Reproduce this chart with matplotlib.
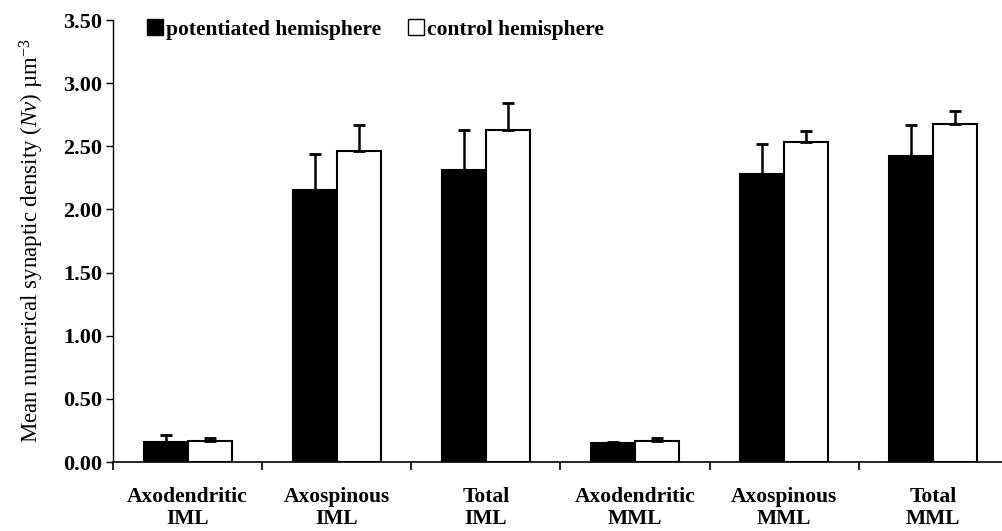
import matplotlib
matplotlib.use('Agg')
import matplotlib.pyplot as plt
from matplotlib.patches import Patch
import numpy as np

# Data
categories = ['Axodendritic\nIML', 'Axospinous\nIML', 'Total\nIML',
              'Axodendritic\nMML', 'Axospinous\nMML', 'Total\nMML']
potentiated = [0.16, 2.15, 2.31, 0.15, 2.28, 2.42]
potentiated_err = [0.05, 0.29, 0.32, 0.01, 0.24, 0.25]
control = [0.17, 2.46, 2.63, 0.17, 2.53, 2.68]
control_err = [0.02, 0.21, 0.21, 0.02, 0.09, 0.10]
yticks = [0.0, 0.5, 1.0, 1.5, 2.0, 2.5, 3.0, 3.5]

plt.rcParams['font.family'] = ['Liberation Serif', 'DejaVu Serif']
plt.rcParams['mathtext.fontset'] = 'custom'
plt.rcParams['mathtext.rm'] = 'Liberation Serif'
plt.rcParams['mathtext.it'] = 'Liberation Serif:italic'

fig = plt.figure(figsize=(10.03, 5.31), dpi=100)
ax = fig.add_axes([113 / 1003, 69 / 531, 890 / 1003, 442 / 531])

x = np.arange(len(categories))
w = 0.295
off = 0.147

ax.bar(x - off, potentiated, w, color='black', edgecolor='black', linewidth=1.5)
ax.bar(x + off, control, w, color='white', edgecolor='black', linewidth=1.5)
ax.errorbar(x - off, potentiated, yerr=[np.zeros(6), potentiated_err], fmt='none',
            ecolor='black', elinewidth=1.8, capsize=4, capthick=2)
ax.errorbar(x + off, control, yerr=[np.zeros(6), control_err], fmt='none',
            ecolor='black', elinewidth=1.8, capsize=4, capthick=2)

ax.set_xlim(-0.5, 5.5 - 5 / 149.4)
ax.set_ylim(0, 3.5)
ax.set_yticks(yticks)
ax.set_yticklabels([f'{v:.2f}' for v in yticks], fontsize=16, fontweight='bold')

# boundaries as major ticks, labels on minor ticks at centres
ax.set_xticks(np.arange(-0.5, 5.5, 1.0))
ax.set_xticklabels([])
ax.set_xticks(x, minor=True)
ax.set_xticklabels(categories, minor=True, fontsize=15.5, fontweight='bold',
                   linespacing=1.1)
ax.tick_params(axis='x', which='minor', length=0, pad=18)
ax.tick_params(axis='x', which='major', length=6, width=1.2, direction='out')
ax.tick_params(axis='y', length=5, width=1.0, direction='out', pad=3)

for s in ['top', 'right']:
    ax.spines[s].set_visible(False)
ax.spines['left'].set_linewidth(1.0)
ax.spines['bottom'].set_linewidth(1.2)

ax.set_ylabel(r'Mean numerical synaptic density ($\mathit{Nv}$) µm$^{-3}$',
              fontsize=16.5, labelpad=12)

handles = [Patch(facecolor='black', edgecolor='black', label='potentiated hemisphere'),
           Patch(facecolor='white', edgecolor='black', label='control hemisphere')]
ax.legend(handles=handles, loc='upper left', bbox_to_anchor=(0.016, 1.045),
          ncol=2, frameon=False, handlelength=0.75, handleheight=0.75,
          handletextpad=0.15, columnspacing=1.25,
          prop={'size': 15.5, 'weight': 'bold'})

fig.savefig('out.png', dpi=100)
